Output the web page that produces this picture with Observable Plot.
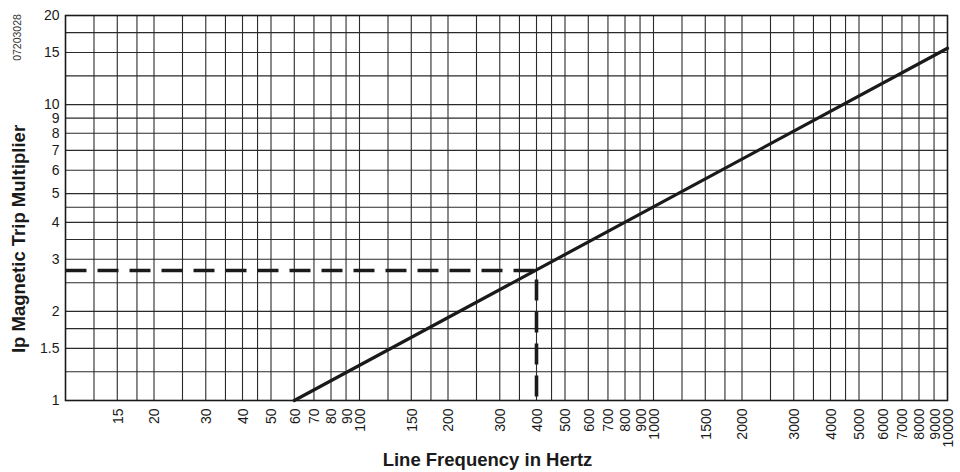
<!DOCTYPE html>
<html>
<head>
<meta charset="utf-8">
<script src="https://cdn.jsdelivr.net/npm/d3@7"></script>
<script src="https://cdn.jsdelivr.net/npm/@observablehq/plot@0.6"></script>
<style>
  html, body { margin: 0; padding: 0; background: #fff; }
  #chart { width: 960px; height: 472px; }
</style>
</head>
<body>
<div id="chart"></div>
<script>
// Curve: Ip magnetic trip multiplier vs line frequency
const curveFreq = [60, 10000];
const curveMult = [1, 15.5];

// Dashed reference path (400 Hz -> 2.75)
const refFreq = [10, 400, 400];
const refMult = [2.75, 2.75, 1];

// Tick labels
const xTicks = [15, 20, 30, 40, 50, 60, 70, 80, 90, 100, 150, 200, 300, 400, 500, 600, 700, 800, 900, 1000,
  1500, 2000, 3000, 4000, 5000, 6000, 7000, 8000, 9000, 10000];
const yTicks = [1, 1.5, 2, 3, 4, 5, 6, 7, 8, 9, 10, 15, 20];

// Grid lines
const xGrid = [12.5, 15, 17.5, 20, 25, 30, 35, 40, 45, 50, 60, 70, 80, 90, 100, 125, 150, 175, 200, 250, 300, 350,
  400, 450, 500, 600, 700, 800, 900, 1000, 1250, 1500, 1750, 2000, 2500, 3000, 3500, 4000, 4500, 5000, 6000, 7000, 8000, 9000];
const yGrid = [1.25, 1.5, 1.75, 2, 2.5, 3, 3.5, 4, 4.5, 5, 6, 7, 8, 9, 10, 12.5, 15, 17.5];

const xTitle = "Line Frequency in Hertz";
const yTitle = "Ip Magnetic Trip Multiplier";
const code = "07203028";

const curve = curveFreq.map((f, i) => ({f, m: curveMult[i]}));
const ref = refFreq.map((f, i) => ({f, m: refMult[i]}));

const ink = "#1a1a1a";

const chart = Plot.plot({
  width: 960,
  height: 472,
  marginLeft: 65,
  marginRight: 13,
  marginTop: 15,
  marginBottom: 72,
  style: {fontFamily: "'Liberation Sans', Arial, Helvetica, sans-serif", background: "#fff", color: ink},
  x: {type: "log", domain: [10, 10000], axis: null},
  y: {type: "log", domain: [1, 20], axis: null},
  marks: [
    Plot.ruleX(xGrid, {x: d => d, stroke: "#2a2a2a", strokeWidth: 1.1}),
    Plot.ruleY(yGrid, {y: d => d, stroke: "#2a2a2a", strokeWidth: 1.1}),
    Plot.frame({stroke: ink, strokeWidth: 1.6}),
    Plot.text(yTicks, {y: d => d, text: d => String(d), frameAnchor: "left", textAnchor: "end", dx: -6, fontSize: 14, fill: ink}),
    Plot.text(xTicks, {x: d => d, text: d => String(d), frameAnchor: "bottom", rotate: -90, textAnchor: "end", lineAnchor: "middle", dy: 8, dx: 1, fontSize: 14, fill: ink}),
    Plot.line(ref, {x: "f", y: "m", stroke: ink, strokeWidth: 3.6, strokeDasharray: "21,11", strokeLinecap: "butt"}),
    Plot.line(curve, {x: "f", y: "m", stroke: ink, strokeWidth: 3.2}),
    Plot.text([yTitle], {text: d => d, frameAnchor: "left", rotate: -90, textAnchor: "middle", lineAnchor: "middle", dx: -46, dy: 31, fontSize: 18.5, fontWeight: "bold", fill: ink}),
    Plot.text([xTitle], {text: d => d, frameAnchor: "bottom", textAnchor: "middle", lineAnchor: "middle", dx: -19, dy: 60, fontSize: 18.5, fontWeight: "bold", fill: ink}),
    Plot.text([code], {text: d => d, frameAnchor: "top-left", rotate: -90, textAnchor: "middle", lineAnchor: "middle", dx: -48, dy: 22, fontSize: 10.5, fill: "#333"})
  ]
});
document.getElementById("chart").appendChild(chart);
</script>
</body>
</html>
